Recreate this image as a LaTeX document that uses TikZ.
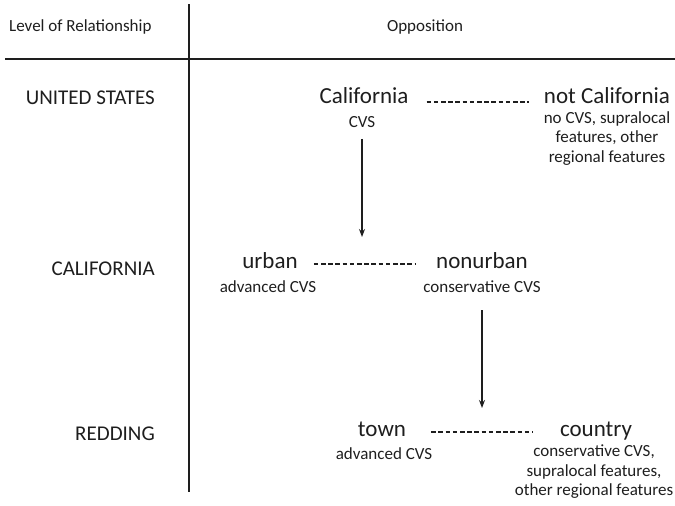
\documentclass[tikz,border=0pt]{standalone}
\usepackage{fontspec}
\setmainfont{Carlito}
\usetikzlibrary{arrows.meta,positioning,calc}
\definecolor{inkcol}{RGB}{30,30,30}

\begin{document}
\begin{tikzpicture}[x=1pt,y=-1pt,>=Stealth,inkcol,
  hdr/.style={font=\fontsize{17}{20}\selectfont,inner sep=0pt},
  lvl/.style={font=\fontsize{21}{24}\selectfont,anchor=east,inner sep=0pt},
  term/.style={font=\fontsize{23}{26}\selectfont,inner sep=0pt,text height=16pt,text depth=5pt},
  feat/.style={font=\fontsize{17}{19.5}\selectfont,inner sep=0pt,align=center},
  opp/.style={line width=1.1pt,dash pattern=on 4.5pt off 2.7pt},
  rule/.style={line width=1.8pt},
  down/.style={line width=1.2pt,-{Stealth[length=8pt,width=6pt]}}]
  \useasboundingbox (0,0) rectangle (675,506);
  % table frame
  \coordinate (vtop) at (189,4);
  \coordinate (vbot) at (189,492);
  \coordinate (hleft) at (5,59);
  \coordinate (hright) at (675,59);
  \draw[rule] (vtop) -- (vbot);
  \draw[rule] (hleft) -- (hright);
  \node[hdr,anchor=west] (lvlhead) at (9,27) {Level of Relationship};
  \node[hdr] (opphead) at (425,27) {Opposition};
  % levels
  \node[lvl] (us) at (155,98) {UNITED STATES};
  \node[lvl] (ca) at (155,269) {CALIFORNIA};
  \node[lvl] (rd) at (155,434) {REDDING};
  % US: California vs not California
  \node[term] (cal) at (364,98) {California};
  \node[feat] (calf) at (362,122) {CVS};
  \node[term] (notcal) at (607,98) {not California};
  \node[feat,anchor=north] (notcalf) at (607,111) {no CVS, supralocal\\features, other\\regional features};
  \draw[opp,shorten <=18pt,shorten >=15pt] ([yshift=-4pt]cal.east) -- ([yshift=-4pt]cal.east -| notcal.west);
  % California: urban vs nonurban
  \node[term] (urb) at (270,263) {urban};
  \node[feat] (urbf) at (268,287) {advanced CVS};
  \node[term] (nonurb) at (482,263) {nonurban};
  \node[feat] (nonurbf) at (482,287) {conservative CVS};
  \draw[opp,shorten <=16pt,shorten >=20pt] ([yshift=-1pt]urb.east) -- ([yshift=-1pt]urb.east -| nonurb.west);
  % Redding: town vs country
  \node[term] (town) at (382,431) {town};
  \node[feat] (townf) at (384,454) {advanced CVS};
  \node[term] (ctry) at (596,431) {country};
  \node[feat,anchor=north] (ctryf) at (594,445) {conservative CVS,\\supralocal features,\\other regional features};
  \draw[opp,shorten <=25pt,shorten >=27pt] ([yshift=-1pt]town.east) -- ([yshift=-1pt]town.east -| ctry.west);
  % narrowing arrows
  \coordinate (arrA) at (363,237);
  \coordinate (arrB) at (478,408);
  \draw[down] (calf.south) ++(0,11) -- (calf.south |- arrA);
  \draw[down] (nonurbf.south) ++(0,17) -- (nonurbf.south |- arrB);
\end{tikzpicture}
\end{document}
